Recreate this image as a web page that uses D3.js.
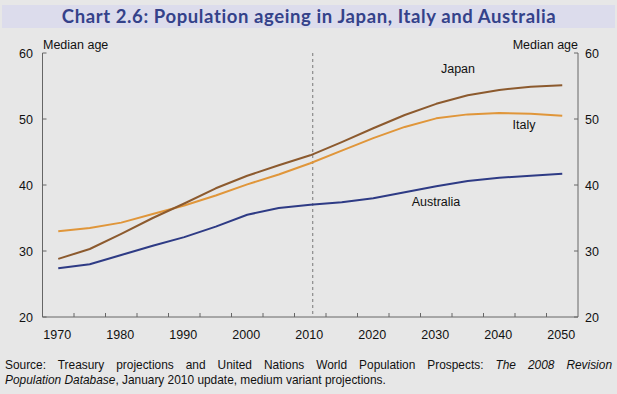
<!DOCTYPE html>
<html><head><meta charset="utf-8">
<script src="https://cdn.jsdelivr.net/npm/d3@7"></script>
<style>
html,body{margin:0;padding:0;background:#e7e7e7;}
#wrap{position:relative;width:617px;height:394px;overflow:hidden;background:#e7e7e7;}
#src{position:absolute;left:5px;top:358px;width:607px;font-family:Arial,"Liberation Sans",sans-serif;font-size:11.9px;line-height:15px;color:#111;}
#src .l1{text-align:justify;text-align-last:justify;white-space:nowrap;}
</style></head>
<body><div id="wrap"><svg id="chart" width="617" height="394"></svg>
<div id="src"><div class="l1">Source: Treasury projections and United Nations World Population Prospects: <i>The 2008 Revision</i></div><div><i>Population Database</i>, January 2010 update, medium variant projections.</div></div></div>
<script>
const years = [1970,1975,1980,1985,1990,1995,2000,2005,2010,2015,2020,2025,2030,2035,2040,2045,2050];
const japan = [28.8,30.3,32.6,35.0,37.2,39.5,41.4,43.0,44.5,46.5,48.6,50.6,52.3,53.6,54.4,54.9,55.1];
const italy = [33.0,33.5,34.3,35.6,36.9,38.4,40.1,41.6,43.3,45.2,47.1,48.8,50.1,50.7,50.9,50.8,50.5];
const australia = [27.4,28.0,29.4,30.8,32.1,33.7,35.5,36.5,37.0,37.4,38.0,38.9,39.8,40.6,41.1,41.4,41.7];
const yTicks = [20,30,40,50,60];
const xLabels = [1970,1980,1990,2000,2010,2020,2030,2040,2050];
const seriesNames = ["Japan","Italy","Australia"];
const colors = {Japan:"#8c5a2e",Italy:"#e0963a",Australia:"#2e3b85"};
const projectionStart = 2010;

(function(){
const svg = d3.select("#chart");
const pL=42.5,pR=578,pT=53,pB=317;
const font='Arial,"Liberation Sans",sans-serif';

// title band
svg.append("rect").attr("x",2).attr("y",5).attr("width",613).attr("height",23).attr("fill","#dcdcec");
svg.append("text").attr("x",309).attr("y",23).attr("text-anchor","middle")
  .attr("font-family",'"Century Gothic","URW Gothic","Lato","DejaVu Sans",sans-serif').attr("font-weight","bold")
  .attr("font-size",18.5).attr("letter-spacing",0.6).attr("fill","#34428a").text("Chart 2.6: Population ageing in Japan, Italy and Australia");

const x = d3.scaleBand().domain(years).range([pL,pR]);
const y = d3.scaleLinear().domain([20,60]).range([pB,pT]);
const cx = d => x(d)+x.bandwidth()/2;

// axes
const axCol="#666";
const g = svg.append("g");
g.append("line").attr("x1",pL).attr("x2",pL).attr("y1",pT).attr("y2",pB).attr("stroke",axCol);
g.append("line").attr("x1",pR).attr("x2",pR).attr("y1",pT).attr("y2",pB).attr("stroke",axCol);
g.append("line").attr("x1",pL).attr("x2",pR).attr("y1",pB).attr("y2",pB).attr("stroke",axCol);
yTicks.forEach(t=>{
  g.append("line").attr("x1",pL).attr("x2",pL+4).attr("y1",y(t)).attr("y2",y(t)).attr("stroke",axCol);
  g.append("line").attr("x1",pR-4).attr("x2",pR).attr("y1",y(t)).attr("y2",y(t)).attr("stroke",axCol);
  g.append("text").attr("x",33).attr("y",y(t)+4.5).attr("text-anchor","end").attr("font-family",font).attr("font-size",12.5).attr("fill","#111").text(t);
  g.append("text").attr("x",585).attr("y",y(t)+4.5).attr("text-anchor","start").attr("font-family",font).attr("font-size",12.5).attr("fill","#111").text(t);
});
years.slice(1).forEach(yr=>{
  const xx = x(yr);
  g.append("line").attr("x1",xx).attr("x2",xx).attr("y1",pB-4).attr("y2",pB).attr("stroke",axCol);
});
xLabels.forEach(yr=>{
  g.append("text").attr("x",cx(yr)-1).attr("y",pB+22).attr("text-anchor","middle").attr("font-family",font).attr("font-size",12.5).attr("fill","#111").text(yr);
});
g.append("text").attr("x",43).attr("y",49).attr("font-family",font).attr("font-size",12.5).attr("fill","#111").text("Median age");
g.append("text").attr("x",578).attr("y",49).attr("text-anchor","end").attr("font-family",font).attr("font-size",12.5).attr("fill","#111").text("Median age");

// projection dashed line
svg.append("line").attr("x1",cx(projectionStart)+2.5).attr("x2",cx(projectionStart)+2.5).attr("y1",pT).attr("y2",pB)
  .attr("stroke","#777").attr("stroke-width",1).attr("stroke-dasharray","3,3");

// lines
const line = d3.line().x((d,i)=>cx(years[i])).y(d=>y(d));
const data = {Japan:japan,Italy:italy,Australia:australia};
["Italy","Japan","Australia"].forEach(n=>{
  svg.append("path").attr("d",line(data[n])).attr("fill","none").attr("stroke",colors[n]).attr("stroke-width",2).attr("stroke-linejoin","round");
});

// series labels
const labels = {Japan:[458,73],Italy:[524,129],Australia:[436,206]};
seriesNames.forEach(n=>{
  svg.append("text").attr("x",labels[n][0]).attr("y",labels[n][1]).attr("text-anchor","middle").attr("font-family",font).attr("font-size",12.5).attr("fill","#111").text(n);
});
})();
</script></body></html>
